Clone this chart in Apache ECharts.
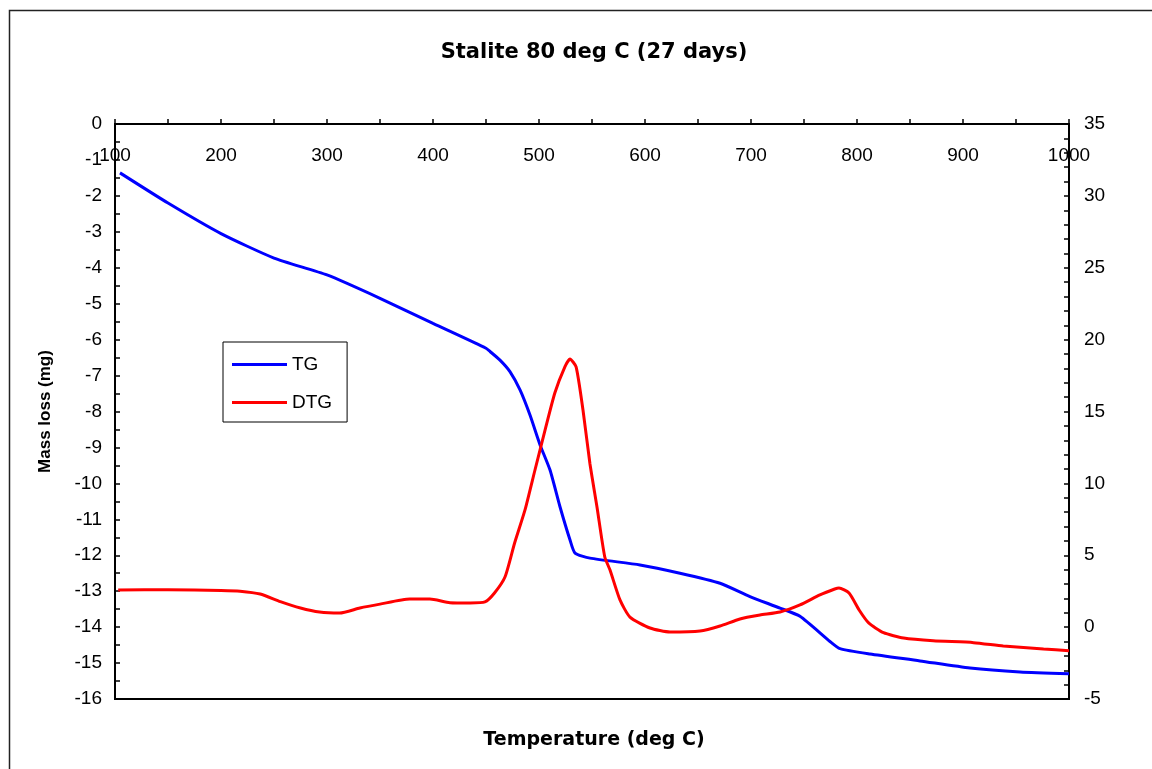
<!DOCTYPE html>
<html>
<head>
<meta charset="utf-8">
<script src="https://cdn.jsdelivr.net/npm/echarts@6/dist/echarts.min.js"></script>
<style>
  html, body { margin: 0; padding: 0; background: #fff; }
  #chart { width: 1152px; height: 769px; }
</style>
</head>
<body>
<div id="chart"></div>
<script>
// TG curve (left axis, mg)
const tgTemp = [104.7, 150, 200, 250, 300, 350, 400, 450, 453.8, 463.2, 472.6, 482.1, 491.5, 501, 510.4, 519.8, 529.2, 534, 548.1, 595.3, 633, 670.8, 699, 727.4, 746.2, 774.5, 784, 812.3, 859.4, 906.6, 953.8, 1000]
const tgMass = [-1.36, -2.2, -3.05, -3.73, -4.2, -4.85, -5.55, -6.24, -6.33, -6.57, -6.89, -7.4, -8.1, -8.93, -9.63, -10.65, -11.57, -11.94, -12.08, -12.27, -12.5, -12.78, -13.15, -13.47, -13.7, -14.4, -14.6, -14.75, -14.94, -15.14, -15.25, -15.3]

// DTG curve (right axis)
const dtgTemp = [103, 150, 200, 218, 237, 256, 275, 293, 312, 331, 350, 378, 397, 416, 435, 449, 458, 468, 477, 486.8, 496.2, 505.7, 515, 524.5, 529.2, 535, 541.5, 548, 554.7, 562, 567, 576.4, 585.8, 604.7, 623.6, 651.9, 670.8, 689.6, 708.5, 727.4, 746.2, 765, 779, 783, 792.5, 802, 811, 825, 844, 872, 910, 938, 976, 1000]
const dtgRate = [2.58, 2.6, 2.55, 2.5, 2.3, 1.77, 1.33, 1.05, 0.98, 1.33, 1.6, 1.95, 1.95, 1.7, 1.68, 1.75, 2.37, 3.5, 5.85, 8.15, 10.93, 13.7, 16.3, 18.12, 18.65, 18.1, 15.1, 11.4, 8.36, 4.9, 3.97, 1.89, 0.7, -0.06, -0.34, -0.27, 0.08, 0.57, 0.84, 1.05, 1.54, 2.24, 2.65, 2.72, 2.37, 1.19, 0.29, -0.39, -0.76, -0.95, -1.08, -1.31, -1.52, -1.64]

const xTicks = { min: 100, max: 1000, interval: 100 }
const leftTicks = { min: -16, max: 0, interval: 1 }
const rightTicks = { min: -5, max: 35, interval: 5 }

const font = '"Liberation Sans", Arial, sans-serif'
const wideFont = '"DejaVu Sans", sans-serif'
const myChart = echarts.init(document.getElementById('chart'))

const option = {
  animation: false,
  backgroundColor: '#fff',
  title: [
    {
      text: 'Stalite 80 deg C (27 days)',
      left: 589,
      top: 37,
      textAlign: 'center',
      textStyle: { color: '#000', fontSize: 21, fontWeight: 'bold', fontFamily: wideFont }
    },
    {
      text: 'Temperature (deg C)',
      left: 589,
      top: 726,
      textAlign: 'center',
      textStyle: { color: '#000', fontSize: 19, fontWeight: 'bold', fontFamily: wideFont }
    }
  ],
  graphic: [
    {
      type: 'rect',
      shape: { x: 9.5, y: 10.5, width: 1300, height: 900 },
      style: { fill: 'none', stroke: '#222', lineWidth: 1.5 },
      silent: true
    }
  ],
  legend: {
    orient: 'vertical',
    left: 223,
    top: 342,
    padding: [13, 15, 10, 9],
    borderColor: '#000',
    borderWidth: 1,
    itemWidth: 55,
    itemHeight: 3,
    itemGap: 19,
    icon: 'rect',
    selectedMode: false,
    textStyle: { color: '#000', fontSize: 19, fontFamily: font },
    data: ['TG', 'DTG']
  },
  grid: {
    left: 115,
    right: 83,
    top: 124,
    bottom: 70,
    show: true,
    borderColor: '#000',
    borderWidth: 2
  },
  xAxis: {
    type: 'value',
    position: 'top',
    min: xTicks.min,
    max: xTicks.max,
    interval: xTicks.interval,
    axisLine: { lineStyle: { color: '#000', width: 2 } },
    axisTick: { inside: false, length: 5, lineStyle: { color: '#000', width: 1.5 } },
    minorTick: { show: true, splitNumber: 2, length: 5, lineStyle: { color: '#000', width: 1.5 } },
    splitLine: { show: false },
    axisLabel: { inside: true, margin: 22, color: '#000', fontSize: 19, fontFamily: font, formatter: v => String(v) }
  },
  yAxis: [
    {
      type: 'value',
      min: leftTicks.min,
      max: leftTicks.max,
      interval: leftTicks.interval,
      name: 'Mass loss (mg)',
      nameLocation: 'middle',
      nameGap: 61,
      nameTextStyle: { color: '#000', fontSize: 17, fontWeight: 'bold', fontFamily: font },
      axisLine: { show: true, lineStyle: { color: '#000', width: 2 } },
      axisTick: { show: true, inside: true, length: 5, lineStyle: { color: '#000', width: 1.5 } },
      minorTick: { show: true, splitNumber: 2, length: 5, lineStyle: { color: '#000', width: 1.5 } },
      splitLine: { show: false },
      axisLabel: { margin: 13, color: '#000', fontSize: 19, fontFamily: font }
    },
    {
      type: 'value',
      position: 'right',
      min: rightTicks.min,
      max: rightTicks.max,
      interval: rightTicks.interval,
      axisLine: { show: true, lineStyle: { color: '#000', width: 2 } },
      axisTick: { show: true, inside: true, length: 5, lineStyle: { color: '#000', width: 1.5 } },
      minorTick: { show: true, splitNumber: 5, length: 5, lineStyle: { color: '#000', width: 1.5 } },
      splitLine: { show: false },
      axisLabel: { margin: 15, color: '#000', fontSize: 19, fontFamily: font }
    }
  ],
  series: [
    {
      name: 'TG',
      type: 'line',
      yAxisIndex: 0,
      showSymbol: false,
      smooth: 0.2,
      color: '#0000ff',
      lineStyle: { width: 3, color: '#0000ff' },
      data: tgTemp.map((t, i) => [t, tgMass[i]])
    },
    {
      name: 'DTG',
      type: 'line',
      yAxisIndex: 1,
      showSymbol: false,
      smooth: 0.2,
      color: '#ff0000',
      lineStyle: { width: 3, color: '#ff0000' },
      data: dtgTemp.map((t, i) => [t, dtgRate[i]])
    }
  ]
}

myChart.setOption(option)
</script>
</body>
</html>
